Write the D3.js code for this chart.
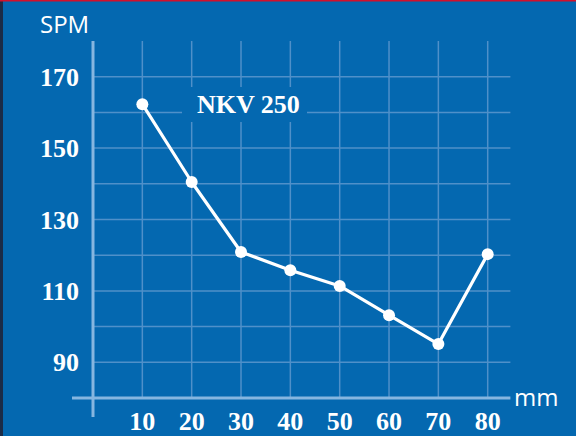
<!DOCTYPE html>
<html>
<head>
<meta charset="utf-8">
<script src="https://cdn.jsdelivr.net/npm/d3@7"></script>
<style>
  html, body { margin: 0; padding: 0; background: #0468b0; }
  svg { display: block; }
</style>
</head>
<body>
<svg id="chart"></svg>
<script>
// data
const strokes = [10, 20, 30, 40, 50, 60, 70, 80];          // mm
const spm = [162.3, 140.5, 120.9, 115.8, 111.4, 103.2, 95.1, 120.3];
const yTicks = [90, 110, 130, 150, 170];
const yGrid = [90, 100, 110, 120, 130, 140, 150, 160, 170];
const seriesName = "NKV 250";

const width = 576, height = 436;
const bg = "#0468b0";

const svg = d3.select("#chart")
    .attr("width", width)
    .attr("height", height);

// background, dark left edge, red top edge
svg.append("rect").attr("width", width).attr("height", height).attr("fill", bg);
svg.append("rect").attr("width", 3).attr("height", height).attr("fill", "#1b2c48");
svg.append("rect").attr("width", width).attr("height", 1.5).attr("fill", "#d2112c");

const x = d3.scaleLinear().domain([0, 80]).range([93, 487.7]);
const y = d3.scaleLinear().domain([80, 180]).range([398, 41]);
const xEnd = 84.6;

const gridColor = "#4f90c9";

// horizontal grid
svg.append("g").selectAll("line")
    .data(yGrid)
    .join("line")
    .attr("x1", x(0)).attr("x2", x(xEnd))
    .attr("y1", d => y(d)).attr("y2", d => y(d))
    .attr("stroke", gridColor).attr("stroke-width", 1.5);

// vertical grid
svg.append("g").selectAll("line")
    .data(strokes)
    .join("line")
    .attr("x1", d => x(d)).attr("x2", d => x(d))
    .attr("y1", y(180)).attr("y2", y(80))
    .attr("stroke", gridColor).attr("stroke-width", 1.5);

// axes
const axisColor = "#86b6e0";
svg.append("line")
    .attr("x1", x(0)).attr("x2", x(0))
    .attr("y1", y(180)).attr("y2", y(80) + 19)
    .attr("stroke", axisColor).attr("stroke-width", 3);
svg.append("line")
    .attr("x1", x(0) - 21).attr("x2", x(xEnd))
    .attr("y1", y(80)).attr("y2", y(80))
    .attr("stroke", axisColor).attr("stroke-width", 3);

// tick labels
const tickFont = "'Liberation Serif', 'Times New Roman', serif";
svg.append("g").selectAll("text")
    .data(yTicks)
    .join("text")
    .attr("x", 79)
    .attr("y", d => y(d) + 9)
    .attr("text-anchor", "end")
    .attr("fill", "#ffffff")
    .style("font-family", tickFont)
    .style("font-weight", "bold")
    .style("font-size", "26px")
    .text(d => d);

svg.append("g").selectAll("text")
    .data(strokes)
    .join("text")
    .attr("x", d => x(d))
    .attr("y", 430)
    .attr("text-anchor", "middle")
    .attr("fill", "#ffffff")
    .style("font-family", tickFont)
    .style("font-weight", "bold")
    .style("font-size", "26px")
    .text(d => d);

// axis titles
svg.append("text")
    .attr("x", 40).attr("y", 33)
    .attr("fill", "#ffffff")
    .style("font-family", "'Open Sans', sans-serif")
    .style("font-size", "24px")
    .text("SPM");

svg.append("text")
    .attr("x", 514).attr("y", 406)
    .attr("fill", "#ffffff")
    .style("font-family", "'Open Sans', sans-serif")
    .style("font-size", "24px")
    .text("mm");

// series label with a knockout box behind it
svg.append("rect")
    .attr("x", 182).attr("y", 87)
    .attr("width", 125).attr("height", 35)
    .attr("fill", bg);
svg.append("text")
    .attr("x", x(31.5))
    .attr("y", y(160) + 1)
    .attr("text-anchor", "middle")
    .attr("fill", "#ffffff")
    .style("font-family", tickFont)
    .style("font-weight", "bold")
    .style("font-size", "26px")
    .text(seriesName);

// line + markers
const pts = strokes.map((s, i) => ({ s: s, v: spm[i] }));

svg.append("path")
    .datum(pts)
    .attr("fill", "none")
    .attr("stroke", "#ffffff")
    .attr("stroke-width", 3.2)
    .attr("stroke-linejoin", "round")
    .attr("d", d3.line().x(d => x(d.s)).y(d => y(d.v)));

svg.append("g").selectAll("circle")
    .data(pts)
    .join("circle")
    .attr("cx", d => x(d.s))
    .attr("cy", d => y(d.v))
    .attr("r", 6)
    .attr("fill", "#ffffff");
</script>
</body>
</html>
